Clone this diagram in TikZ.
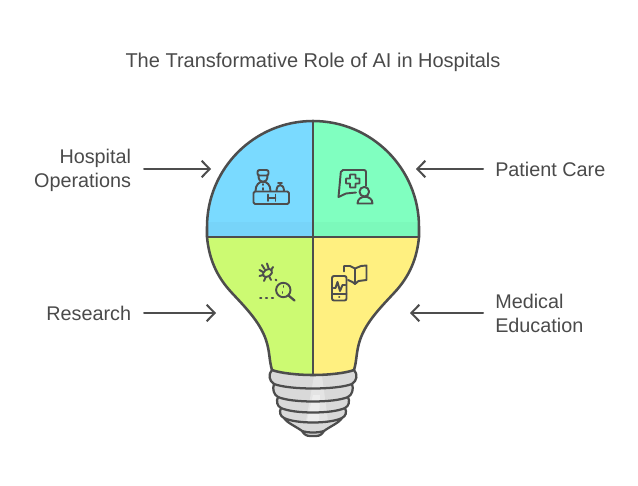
\documentclass[tikz,border=0pt]{standalone}
\usepackage{fontspec}
\setmainfont{Liberation Sans}
\usetikzlibrary{arrows.meta}

\begin{document}
\begin{tikzpicture}
		[x=.75pt,y=-.75pt,line cap=round,line join=round,
		%Styles
		outline/.style={draw=linecolor,line width=1.9pt},
		icon line/.style={draw=linecolor,line width=1.45pt},
		left text/.style={text=textcolor,font=\fontsize{14.85}{18}\selectfont,align=right,anchor=east,inner xsep=9.5pt,inner ysep=0pt},
		right text/.style={text=textcolor,font=\fontsize{14.85}{18}\selectfont,align=left,anchor=west,inner xsep=9pt,inner ysep=0pt},
		pointer/.style={draw=linecolor,line width=1.5pt,-{Straight Barb[length=6pt,width=12.5pt,line width=1.5pt]}}
		]
		
		%Colors
		\definecolor{linecolor}{HTML}{4D4D4D}
		\definecolor{textcolor}{HTML}{4A4A4A}
		\definecolor{opsfill}{HTML}{7ADAFF}
		\definecolor{carefill}{HTML}{80FFC0}
		\definecolor{researchfill}{HTML}{CCFA72}
		\definecolor{educationfill}{HTML}{FFF080}
		\definecolor{basefill}{HTML}{D9D9D9}
		
		\useasboundingbox (0,0) rectangle (638,485);
		
		%Title
		\node[text=textcolor,font=\fontsize{15}{18}\selectfont] (title) at (313,62) {The Transformative Role of AI in Hospitals};
		
		%The base
		\filldraw[fill=basefill,draw=linecolor,line width=1.7pt] (272,370) .. controls (268,374) and (269,381) .. (274,384)
			.. controls (272,389) and (274,395) .. (278,397)
			.. controls (276,401) and (277,406) .. (281,408)
			.. controls (279,412) and (280,416) .. (284,418)
			.. controls (287,423) and (297,427) .. (302,431)
			.. controls (304,434) and (306,436) .. (310,436) -- (316,436)
			.. controls (320,436) and (322,434) .. (324,431)
			.. controls (329,427) and (339,423) .. (342,418)
			.. controls (346,416) and (347,412) .. (345,408)
			.. controls (349,406) and (350,401) .. (348,397)
			.. controls (352,395) and (354,389) .. (352,384)
			.. controls (357,381) and (358,374) .. (354,370) -- cycle;
		\fill[white,opacity=.3] (314,376) -- (322,376) -- (328,421) -- (306,421) -- cycle;
		\fill[white,opacity=.35] (313,395) -- (320,395) -- (319,421) -- (307,421) -- cycle;
		\begin{scope}[draw=linecolor,line width=1.7pt]
			\draw (274,384) .. controls (290,390) and (336,390) .. (352,384);
			\draw (278,397) .. controls (292,403) and (334,403) .. (348,397);
			\draw (281,408) .. controls (294,414) and (332,414) .. (345,408);
			\draw (284,418) .. controls (296,424) and (330,424) .. (342,418);
			\draw (302,431) .. controls (308,433) and (318,433) .. (324,431);
		\end{scope}
		
		%The bulb
		\fill[opsfill] (313,237) -- (207,237) -- (207,227) .. controls (207,168.5) and (254.5,121) .. (313,121) -- cycle;
		\fill[carefill] (313,237) -- (419,237) -- (419,227) .. controls (419,168.5) and (371.5,121) .. (313,121) -- cycle;
		\fill[black,opacity=.025] (208,222) rectangle (418,237);
		\fill[researchfill] (313,237) -- (207,237) .. controls (209,258) and (216,276) .. (232,293)
			.. controls (245,307) and (260,322) .. (266,340)
			.. controls (270,352) and (269,360) .. (272,370)
			.. controls (280,373) and (297,375) .. (313,375) -- cycle;
		\fill[educationfill] (313,237) -- (419,237) .. controls (417,258) and (410,276) .. (394,293)
			.. controls (381,307) and (366,322) .. (360,340)
			.. controls (356,352) and (357,360) .. (354,370)
			.. controls (346,373) and (329,375) .. (313,375) -- cycle;
		\draw[outline] (272,370) .. controls (269,360) and (270,352) .. (266,340)
			.. controls (260,322) and (245,307) .. (232,293)
			.. controls (216,276) and (209,258) .. (207,237)
			-- (207,227) .. controls (207,168.5) and (254.5,121) .. (313,121)
			.. controls (371.5,121) and (419,168.5) .. (419,227) -- (419,237)
			.. controls (417,258) and (410,276) .. (394,293)
			.. controls (381,307) and (366,322) .. (360,340)
			.. controls (356,352) and (357,360) .. (354,370)
			.. controls (346,373) and (329,375) .. (313,375)
			.. controls (297,375) and (280,373) .. (272,370);
		\draw[outline] (207,237) -- (419,237);
		\draw[outline] (313,121) -- (313,375);
		
		%Hospital icon
		\begin{scope}[icon line]
			\draw[rounded corners=1.2pt] (253.5,191.5) rectangle (289,204);
			\draw (268,194.5) -- (268,201) (275.5,194.5) -- (275.5,201) (268,198) -- (275.5,198);
			\draw[rounded corners=1.5pt] (257.5,170) -- (268.5,170) -- (268.5,175.5) -- (257.5,175.5) -- cycle;
			\draw (258.5,176) .. controls (258.5,184) and (267.5,184) .. (267.5,176);
			\draw (255.5,191) .. controls (255.5,178.5) and (270.5,178.5) .. (270.5,191);
			\draw (263,184) -- (263,185) (263,188) -- (263,190);
			\draw (276.5,191) .. controls (276.5,183) and (284,183) .. (284,191);
			\draw (278,183) -- (282,183);
		\end{scope}
		
		%Patient icon
		\begin{scope}[icon line]
			\draw[rounded corners=1.5pt] (366,186) -- (366,170) -- (341,170) -- (338.5,197);
			\draw (338.5,197) -- (346,193.5) -- (356,192.5);
			\draw[rounded corners=.4pt] (350,174.5) -- (355.5,174.5) -- (355.5,178.5) -- (359.5,178.5) -- (359.5,183.5) -- (355.5,183.5) -- (355.5,187.5) -- (350,187.5) -- (350,183.5) -- (346,183.5) -- (346,178.5) -- (350,178.5) -- cycle;
			\draw (364.3,191.7) circle[radius=4.8];
			\draw (357.5,203.5) .. controls (357.5,194.5) and (372.5,194.5) .. (372.5,203.5) -- cycle;
		\end{scope}
		
		%Research icon
		\begin{scope}[icon line]
			\draw[rotate around={35:(267.5,273)}] (267.5,273) ellipse[x radius=5,y radius=3.5];
			\draw (262,265) -- (264.5,269) (267,263.5) -- (268.5,268) (273,267) -- (271,270);
			\draw (259.5,270) -- (263,272) (259.5,276) -- (263,275) (264,281) -- (265.5,277.5) (271,280) -- (269.5,277);
			\draw (275.5,279.5) -- (276.5,280.5);
			\draw (283.3,290) circle[radius=7.2];
			\draw[line width=1.7pt] (288.5,295.5) -- (294.5,300.5);
			\draw (283.5,286) -- (283.5,287) (282.5,292) -- (282.5,293);
			\draw[dash pattern=on 1pt off 3.4pt] (260,298) -- (275,298);
		\end{scope}
		
		%Education icon
		\begin{scope}[icon line]
			\draw[rounded corners=1.5pt] (332,276) rectangle (346.5,300.5);
			\draw (332,294) -- (346.5,294);
			\draw (339,297.2) -- (339.4,297.2);
			\draw (333.5,288) -- (335.5,288) -- (337.5,282) -- (340,291) -- (342.5,285) -- (345.5,285);
			\draw (344,271.5) -- (344,266) -- (350,266) -- (355,268.5) -- (361,266) -- (366.5,265.5) -- (366.5,280) -- (358.5,281) -- (355,284);
			\draw (355,268.5) -- (355,284) (352.5,282) -- (355,284);
			\draw (348,280) -- (352.5,282);
		\end{scope}
		
		%The labels
		\node[left text] (hospital) at (144,170.5) {Hospital\\Operations};
		\node[left text] (research) at (144,313) {Research};
		\node[right text] (patient) at (483,169) {Patient Care};
		\node[right text] (medical) at (483,313) {Medical\\Education};
		
		\coordinate (hospital tip) at (211,169);
		\coordinate (research tip) at (216,313);
		\coordinate (patient tip) at (416,169);
		\coordinate (medical tip) at (410,313);
		
		\draw[pointer] (hospital.east |- hospital tip) -- (hospital tip);
		\draw[pointer] (research.east |- research tip) -- (research tip);
		\draw[pointer] (patient.west |- patient tip) -- (patient tip);
		\draw[pointer] (medical.west |- medical tip) -- (medical tip);
	\end{tikzpicture}
\end{document}
